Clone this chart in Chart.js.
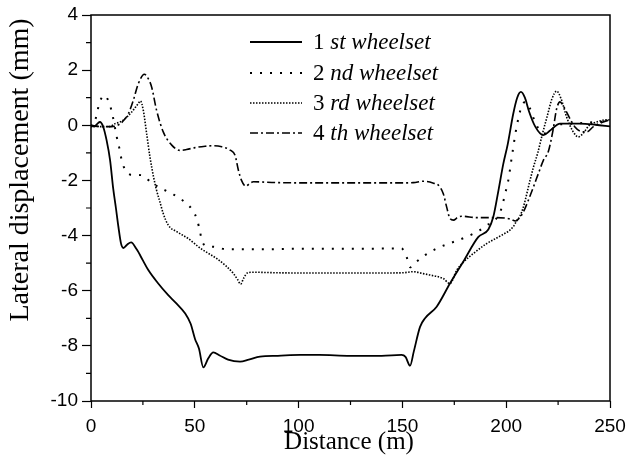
<!DOCTYPE html>
<html>
<head>
<meta charset="utf-8">
<title>Lateral displacement of wheelsets</title>
<script src="https://cdn.jsdelivr.net/npm/chart.js@4.4.1/dist/chart.umd.min.js"></script>
<style>
  html, body { margin: 0; padding: 0; background: #fff; }
  canvas { display: block; }
</style>
</head>
<body>
<canvas id="wheelsetChart" width="630" height="457"></canvas>
<script>
// distance along the track (m) and lateral displacement (mm), one pair per wheelset
const dist1 = [0, 1.5, 3, 4.3, 5.9, 7.5, 9.2, 10.7, 12, 13.2, 14.5, 15.6, 17.4, 19.3, 22, 25, 27.6, 32, 37.2, 41, 45.3, 48, 50.1, 52, 54.1, 56.5, 58.9, 62, 66, 71.8, 76, 81.4, 90, 100.7, 110, 124.8, 140, 149.6, 151.5, 153.7, 155.5, 158.5, 160.9, 166.5, 172.9, 179.3, 186.6, 191.4, 193.8, 196.3, 198.6, 200.7, 203.4, 205.3, 207.1, 209, 211, 214, 217.9, 221, 226, 235.5, 243, 250];
const disp1 = [0, -0.05, 0.05, 0.12, -0.06, -0.54, -1.27, -2.3, -3.0, -3.68, -4.3, -4.45, -4.33, -4.25, -4.5, -4.9, -5.25, -5.7, -6.16, -6.45, -6.82, -7.2, -7.75, -8.1, -8.78, -8.45, -8.24, -8.35, -8.5, -8.57, -8.5, -8.39, -8.36, -8.33, -8.33, -8.36, -8.36, -8.33, -8.4, -8.72, -8.2, -7.31, -7.0, -6.58, -5.74, -4.95, -4.05, -3.78, -3.32, -2.35, -1.4, -0.7, 0.42, 1.0, 1.21, 1.0, 0.5, -0.05, -0.36, -0.2, 0.06, 0.06, 0.02, -0.04];

const dist2 = [0, 0.3, 2.7, 3.9, 5.2, 6.7, 8, 9.2, 10.4, 12.4, 13.6, 14.5, 15.9, 17.5, 19.1, 24.4, 29.2, 34.4, 39.2, 44.2, 49, 51.2, 52.5, 53.5, 56, 59.5, 65.4, 80, 100, 120, 149.6, 152, 153.7, 156, 160.1, 165.7, 171.3, 176.9, 181.7, 187.4, 190, 194.6, 197.8, 199.4, 201, 202.6, 203.4, 205, 207.5, 209.3, 211.5, 214, 217, 220, 224, 230, 240, 250];
const disp2 = [0, -0.04, 0.36, 0.79, 1.0, 1.09, 0.95, 0.72, 0.36, -0.42, -0.81, -1.17, -1.53, -1.72, -1.79, -1.81, -2.09, -2.31, -2.49, -2.73, -3.09, -3.45, -3.86, -4.2, -4.38, -4.41, -4.5, -4.5, -4.48, -4.48, -4.47, -4.77, -5.15, -5.0, -4.75, -4.5, -4.32, -4.17, -4.02, -3.8, -3.65, -3.44, -3.0, -2.5, -2.0, -1.2, -0.8, -0.06, 0.7, 0.85, 0.6, 0.1, -0.25, -0.3, 0.0, 0.05, 0.1, 0.15];

const dist3 = [0, 5, 9, 11.6, 14, 16.4, 19.6, 22.8, 23.8, 25.2, 26.8, 28.4, 30.2, 31.6, 33.2, 34.8, 37.2, 41.3, 46.9, 52.5, 56, 60.5, 65, 68.5, 70.5, 72.1, 73.5, 75.5, 78.2, 90, 110, 130, 150, 155.3, 160, 163.3, 169.7, 172.9, 176.2, 179.3, 184.2, 190.6, 197, 203.4, 205, 206.6, 208.3, 211.5, 213.2, 215.2, 217.5, 220, 222, 224.3, 226.5, 229.1, 232, 234.7, 237, 240, 243.6, 248.4, 250];
const disp3 = [0, -0.05, -0.05, 0.06, 0.12, 0.24, 0.48, 0.79, 0.88, 0.54, -0.3, -1.15, -1.9, -2.36, -2.78, -3.2, -3.62, -3.86, -4.11, -4.45, -4.62, -4.83, -5.1, -5.37, -5.58, -5.76, -5.55, -5.35, -5.33, -5.35, -5.36, -5.36, -5.35, -5.31, -5.38, -5.43, -5.56, -5.74, -5.25, -4.97, -4.65, -4.29, -4.02, -3.68, -3.47, -3.3, -2.96, -1.99, -1.5, -1.0, -0.3, 0.4, 0.95, 1.24, 0.95, 0.3, -0.2, -0.42, -0.3, 0.0, 0.12, 0.2, 0.2];

const dist4 = [0, 5, 10, 14, 16, 18, 20.4, 22.8, 25.7, 27.5, 29.2, 31.6, 34.8, 38.9, 42.9, 46, 50.1, 55, 58.9, 63, 67, 69.4, 71, 72.5, 74.5, 76.6, 78.2, 90, 110, 130, 150, 155.3, 160.1, 165, 167.3, 169.7, 171.3, 172.9, 174.6, 176.5, 178.6, 185.8, 195.4, 202, 204.5, 206.5, 208.3, 210.5, 213.1, 215.5, 217.9, 220.3, 222.5, 224.3, 225.9, 227.5, 230.7, 233, 236, 238.8, 242, 246, 250];
const disp4 = [0, -0.05, -0.05, 0.05, 0.2, 0.42, 0.91, 1.51, 1.85, 1.7, 1.39, 0.54, -0.24, -0.72, -0.91, -0.88, -0.81, -0.76, -0.74, -0.78, -0.9, -1.09, -1.63, -2.0, -2.21, -2.1, -2.05, -2.08, -2.09, -2.09, -2.09, -2.08, -2.03, -2.1, -2.17, -2.48, -2.96, -3.38, -3.44, -3.35, -3.3, -3.35, -3.35, -3.4, -3.47, -3.35, -3.14, -2.75, -2.24, -1.75, -1.27, -0.95, -0.2, 0.6, 0.85, 0.7, 0.24, -0.05, -0.22, -0.24, -0.05, 0.1, 0.2];

const ordinals = ['1', '2', '3', '4'];
const suffixes = ['st wheelset', 'nd wheelset', 'rd wheelset', 'th wheelset'];
const dashes = [[], [2, 8], [1.5, 1.5], [8, 3, 2, 3]];
const widths = [1.8, 2, 1.6, 1.6];

const xTicks = [0, 50, 100, 150, 200, 250];
const yTicks = [-10, -8, -6, -4, -2, 0, 2, 4];

const xTitle = 'Distance (m)';
const yTitle = 'Lateral displacement (mm)';

function toPoints(xs, ys) {
    return xs.map((x, i) => ({ x: x, y: ys[i] }));
}

const series = [[dist1, disp1], [dist2, disp2], [dist3, disp3], [dist4, disp4]];

const datasets = series.map((s, i) => ({
    label: ordinals[i] + ' ' + suffixes[i],
    data: toPoints(s[0], s[1]),
    borderColor: '#000',
    borderWidth: widths[i],
    borderDash: dashes[i],
    fill: false,
    pointRadius: 0,
    cubicInterpolationMode: 'monotone'
}));

// frame, minor ticks, titles and the legend are drawn here
const decorations = {
    id: 'decorations',
    afterDraw(chart) {
        const ctx = chart.ctx;
        const area = chart.chartArea;
        const xs = chart.scales.x;
        const ys = chart.scales.y;

        ctx.save();
        ctx.strokeStyle = '#000';
        ctx.lineWidth = 1.5;
        ctx.setLineDash([]);
        ctx.strokeRect(area.left, area.top, area.right - area.left, area.bottom - area.top);

        // minor ticks between the labelled ones
        ctx.lineWidth = 1.2;
        ctx.beginPath();
        for (let v = 25; v < 250; v += 50) {
            const px = xs.getPixelForValue(v);
            ctx.moveTo(px, area.bottom);
            ctx.lineTo(px, area.bottom + 4);
        }
        for (let v = -9; v < 4; v += 2) {
            const py = ys.getPixelForValue(v);
            ctx.moveTo(area.left, py);
            ctx.lineTo(area.left - 5, py);
        }
        ctx.stroke();

        // axis titles
        ctx.fillStyle = '#000';
        ctx.font = '25px "Liberation Serif"';
        ctx.textAlign = 'center';
        ctx.textBaseline = 'alphabetic';
        ctx.fillText(xTitle, 349, 449);

        ctx.save();
        ctx.translate(28, 170);
        ctx.rotate(-Math.PI / 2);
        ctx.font = '28px "Liberation Serif"';
        ctx.fillText(yTitle, 0, 0);
        ctx.restore();

        // legend
        const rows = [42, 73, 103, 133];
        chart.data.datasets.forEach((ds, i) => {
            const y = rows[i];
            ctx.beginPath();
            ctx.lineWidth = ds.borderWidth;
            ctx.setLineDash(ds.borderDash);
            ctx.moveTo(250, y);
            ctx.lineTo(302, y);
            ctx.stroke();
            ctx.setLineDash([]);

            ctx.textAlign = 'left';
            ctx.textBaseline = 'middle';
            ctx.font = '23px "Liberation Serif"';
            const lead = ordinals[i] + ' ';
            ctx.fillText(lead, 313, y + 1);
            const w = ctx.measureText(lead).width;
            ctx.font = 'italic 23px "Liberation Serif"';
            ctx.fillText(suffixes[i], 313 + w, y + 1);
        });
        ctx.restore();
    }
};

const chart = new Chart(document.getElementById('wheelsetChart').getContext('2d'), {
    type: 'line',
    data: { datasets: datasets },
    options: {
        responsive: false,
        devicePixelRatio: 1,
        animation: false,
        layout: { padding: { top: 15, right: 20, left: 0, bottom: 0 } },
        plugins: {
            legend: { display: false },
            tooltip: { enabled: false }
        },
        scales: {
            x: {
                type: 'linear',
                min: 0,
                max: 250,
                afterFit(scale) {
                    scale.height = 56;
                    scale.paddingLeft = 0;
                    scale.paddingRight = 0;
                },
                afterBuildTicks(scale) { scale.ticks = xTicks.map(v => ({ value: v })); },
                ticks: {
                    autoSkip: false,
                    maxRotation: 0,
                    padding: 7,
                    color: '#000',
                    font: { family: 'Liberation Sans', size: 19 }
                },
                grid: {
                    drawOnChartArea: false,
                    tickLength: 7,
                    tickColor: '#000',
                    tickWidth: 1.2
                },
                border: { display: false }
            },
            y: {
                type: 'linear',
                min: -10,
                max: 4,
                afterFit(scale) {
                    scale.width = 91;
                    scale.paddingTop = 0;
                    scale.paddingBottom = 0;
                },
                afterBuildTicks(scale) { scale.ticks = yTicks.map(v => ({ value: v })); },
                ticks: {
                    autoSkip: false,
                    padding: 4,
                    color: '#000',
                    font: { family: 'Liberation Sans', size: 19 }
                },
                grid: {
                    drawOnChartArea: false,
                    tickLength: 9,
                    tickColor: '#000',
                    tickWidth: 1.2
                },
                border: { display: false }
            }
        }
    },
    plugins: [decorations]
});
</script>
</body>
</html>
